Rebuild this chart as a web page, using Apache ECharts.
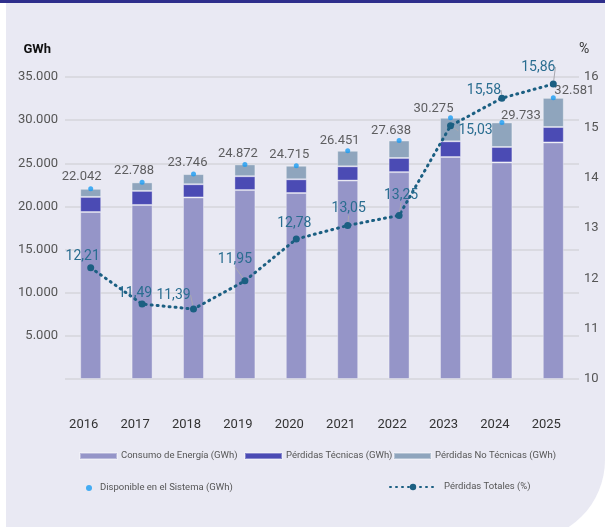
<!DOCTYPE html>
<html>
<head>
<meta charset="utf-8">
<style>
  html, body { margin: 0; padding: 0; background: #fff; }
  #chart { width: 605px; height: 527px; }
</style>
<script src="https://cdn.jsdelivr.net/npm/echarts@6/dist/echarts.min.js"></script>
</head>
<body>
<div id="chart"></div>
<script>
  var years = ['2016', '2017', '2018', '2019', '2020', '2021', '2022', '2023', '2024', '2025'];
  var consumo = [19351, 20170, 21041, 21900, 21556, 22999, 23976, 25725, 25101, 27414];
  var tecnicas = [1750, 1630, 1530, 1600, 1590, 1650, 1640, 1820, 1790, 1790];
  var noTecnicas = [941, 988, 1175, 1372, 1569, 1802, 2022, 2730, 2842, 3377];
  var disponible = [22042, 22788, 23746, 24872, 24715, 26451, 27638, 30275, 29733, 32581];
  var perdidasPct = [12.21, 11.49, 11.39, 11.95, 12.78, 13.05, 13.25, 15.03, 15.58, 15.86];

  // where each label sits relative to its point (placement only)
  var dispOffsets = [[-9, -12], [-8, -12], [-6, -11], [-7, -11], [-7, -11], [-8, -10], [-8, -10], [-17, -9], [19, -7], [21, -7]];
  var pctOffsets = [[-8, -11], [-7, -11], [-20, -14], [-10, -21], [-2, -16], [1, -17], [2, -20], [25, 5], [-18, -8], [-15, -17]];
  var pctGuide = [false, false, true, true, false, true, true, true, true, true];

  var font = "Roboto, 'Noto Sans', sans-serif";

  function fmtMiles(v) {
    return String(v).replace(/\B(?=(\d{3})+(?!\d))/g, '.');
  }

  var legendText = { color: '#555', fontSize: 9.5, fontFamily: font, padding: [0, 0, 0, -1] };

  var chart = echarts.init(document.getElementById('chart'));

  var pctData = perdidasPct.map(function (v, i) {
    return { value: v, labelLine: { show: pctGuide[i] } };
  });

  chart.setOption({
    backgroundColor: '#ffffff',
    textStyle: { fontFamily: font },
    animation: false,
    graphic: [
      {
        type: 'rect', z: -10, silent: true,
        shape: { x: 6, y: 0, width: 599, height: 540, r: [0, 0, 80, 0] },
        style: { fill: '#e9e9f3' }
      },
      {
        type: 'rect', z: -9, silent: true,
        shape: { x: 0, y: 0, width: 605, height: 3 },
        style: { fill: '#2e2e8c' }
      }
    ],
    grid: { left: 65, right: 26, top: 77, bottom: 148 },
    legend: [
      {
        data: ['Consumo de Energía (GWh)'],
        left: 79, top: 451, padding: 0,
        itemWidth: 37, itemHeight: 6, icon: 'rect',
        textStyle: legendText
      },
      {
        data: ['Pérdidas Técnicas (GWh)'],
        left: 244, top: 451, padding: 0,
        itemWidth: 37, itemHeight: 6, icon: 'rect',
        textStyle: legendText
      },
      {
        data: ['Pérdidas No Técnicas (GWh)'],
        left: 393, top: 451, padding: 0,
        itemWidth: 37, itemHeight: 6, icon: 'rect',
        textStyle: legendText
      },
      {
        data: ['Disponible en el Sistema (GWh)'],
        left: 86, top: 483, padding: 0,
        itemWidth: 6, itemHeight: 6, icon: 'circle',
        textStyle: { color: '#555', fontSize: 9.5, fontFamily: font, padding: [0, 0, 0, 3] }
      },
      {
        data: ['Pérdidas Totales (%)'],
        left: 389, top: 482, padding: 0,
        itemWidth: 46, itemHeight: 8,
        textStyle: { color: '#555', fontSize: 9.5, fontFamily: font, padding: [0, 0, 0, 3] }
      }
    ],
    xAxis: {
      type: 'category',
      data: years,
      axisLine: { show: false },
      axisTick: { show: false },
      axisLabel: { color: '#333', fontSize: 13, margin: 39, padding: [0, 14, 0, 0] }
    },
    yAxis: [
      {
        type: 'value', min: 0, max: 35000, interval: 5000,
        name: 'GWh', nameLocation: 'end', nameGap: 21,
        nameTextStyle: { color: '#111', fontSize: 13, fontWeight: 'bold', align: 'right', padding: [0, 14, 0, 0] },
        axisLine: { show: false },
        axisTick: { show: false },
        axisLabel: {
          color: '#555', fontSize: 13, margin: 7,
          formatter: function (v) { return v === 0 ? '' : fmtMiles(v); }
        },
        splitLine: { lineStyle: { color: '#d5d5db', width: 1.5 } }
      },
      {
        type: 'value', min: 10, max: 16, interval: 1, position: 'right',
        name: '%', nameLocation: 'end', nameGap: 21,
        nameTextStyle: { color: '#333', fontSize: 14, align: 'left', padding: [0, 0, 0, 0] },
        axisLine: { show: false },
        axisTick: { show: false },
        axisLabel: { color: '#555', fontSize: 13, margin: 5 },
        splitLine: { show: false }
      }
    ],
    series: [
      {
        name: 'Consumo de Energía (GWh)', type: 'bar', stack: 'total', barWidth: 21,
        itemStyle: { color: '#9595c8', borderColor: 'rgba(255,255,255,0.35)', borderWidth: 1 },
        data: consumo
      },
      {
        name: 'Pérdidas Técnicas (GWh)', type: 'bar', stack: 'total', barWidth: 21,
        itemStyle: { color: '#4b4bb4', borderColor: 'rgba(255,255,255,0.35)', borderWidth: 1 },
        data: tecnicas
      },
      {
        name: 'Pérdidas No Técnicas (GWh)', type: 'bar', stack: 'total', barWidth: 21,
        itemStyle: { color: '#8fa5bd', borderColor: 'rgba(255,255,255,0.35)', borderWidth: 1 },
        data: noTecnicas
      },
      {
        name: 'Disponible en el Sistema (GWh)', type: 'scatter', symbolSize: 5, z: 5,
        itemStyle: { color: '#1a9cf2' },
        label: {
          show: true, position: 'inside', color: '#3a3a3a', fontSize: 13,
          formatter: function (p) { return fmtMiles(p.value); }
        },
        labelLayout: function (p) {
          var o = dispOffsets[p.dataIndex];
          return { dx: o[0], dy: o[1] };
        },
        data: disponible
      },
      {
        name: 'Pérdidas Totales (%)', type: 'line', yAxisIndex: 1, z: 6,
        symbol: 'circle', symbolSize: 7,
        itemStyle: { color: '#1b5f82' },
        lineStyle: { color: '#1b5f82', width: 3, type: [1, 5], cap: 'round' },
        label: {
          show: true, position: 'inside', color: '#2a6d90', fontSize: 14,
          formatter: function (p) { return p.value.toFixed(2).replace('.', ','); }
        },
        labelLayout: function (p) {
          var o = pctOffsets[p.dataIndex];
          return { dx: o[0], dy: o[1] };
        },
        labelLine: { lineStyle: { color: '#a8a8b0', width: 1 } },
        data: pctData
      }
    ]
  });
</script>
</body>
</html>
